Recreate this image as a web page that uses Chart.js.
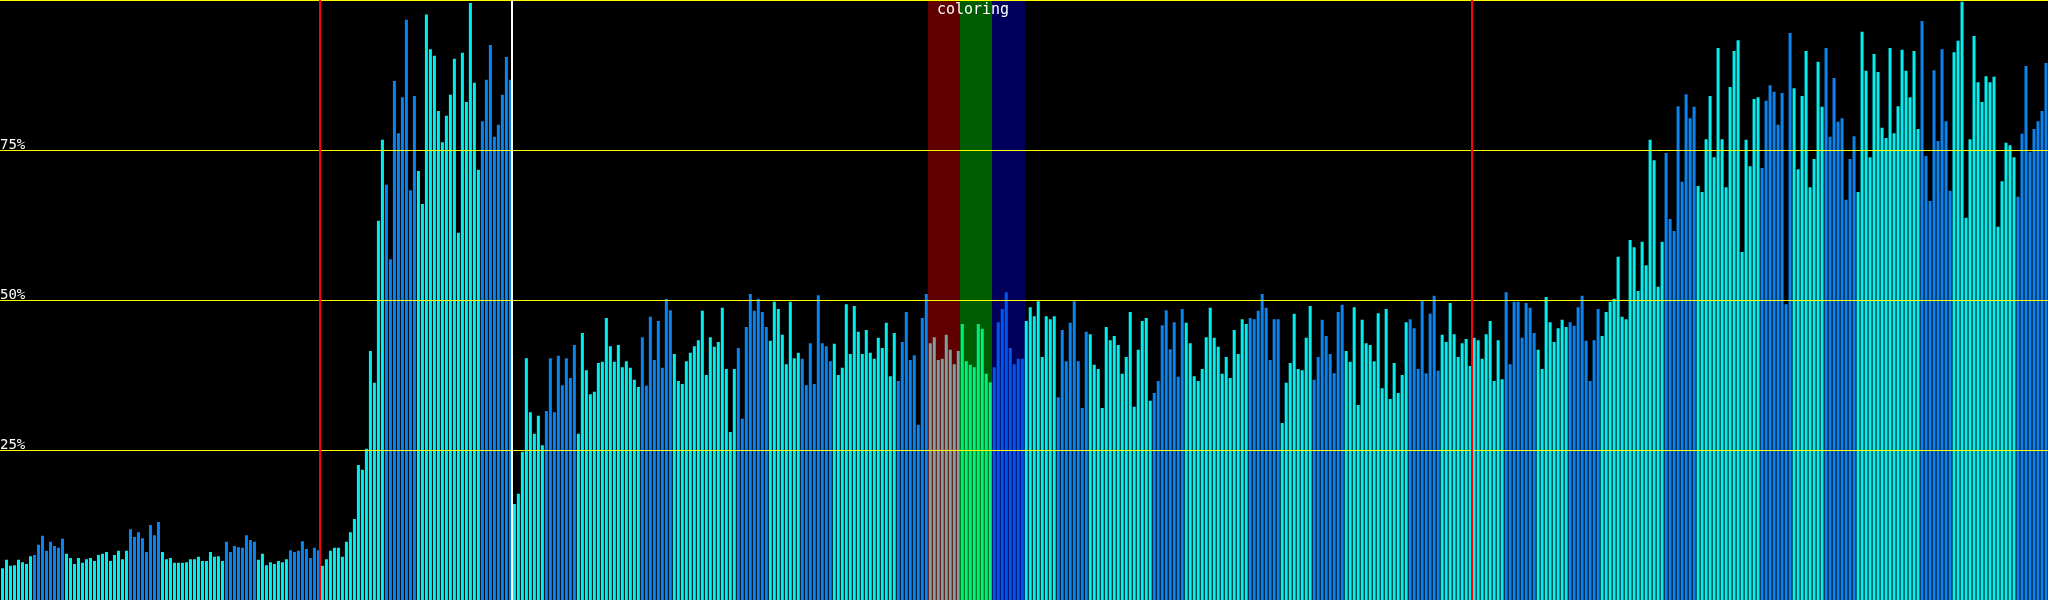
<!DOCTYPE html>
<html>
<head>
<meta charset="utf-8">
<script src="https://cdn.jsdelivr.net/npm/chart.js@4.4.1/dist/chart.umd.min.js"></script>
<style>
    html, body { margin: 0; padding: 0; background: #000; overflow: hidden; }
    #wrap { width: 2048px; height: 600px; }
</style>
</head>
<body>
<div id="wrap"><canvas id="usageChart" width="2048" height="600"></canvas></div>
<script>
// usage per slot, in percent
const usage = [
    5.3, 6.7, 5.7, 5.8, 6.7, 6.3, 6.0, 7.3, 7.5, 9.2, 10.7, 8.2, 9.7, 9.0, 8.7, 10.2,
    7.7, 7.0, 6.0, 7.0, 6.2, 6.8, 7.0, 6.5, 7.5, 7.7, 8.0, 6.5, 7.5, 8.2, 6.8, 8.2,
    11.8, 10.5, 11.3, 10.3, 8.0, 12.5, 10.8, 13.0, 8.0, 6.8, 7.0, 6.2, 6.2, 6.2, 6.3, 6.8,
    6.8, 7.2, 6.5, 6.5, 8.0, 7.2, 7.3, 6.5, 9.7, 8.0, 9.0, 8.8, 8.7, 10.8, 10.0, 9.7,
    6.7, 7.7, 5.8, 6.3, 6.0, 6.5, 6.3, 6.8, 8.3, 8.0, 8.2, 9.8, 8.5, 7.0, 8.7, 8.3,
    5.7, 6.8, 8.2, 8.7, 8.7, 7.2, 9.7, 11.3, 13.5, 22.5, 21.7, 25.2, 41.5, 36.2, 63.2, 76.7,
    69.2, 56.8, 86.5, 77.8, 83.8, 96.7, 68.3, 84.0, 71.5, 66.0, 97.6, 91.8, 90.7, 81.5, 76.3, 80.7,
    84.2, 90.2, 61.2, 91.2, 83.0, 99.5, 86.2, 71.7, 79.8, 86.7, 92.5, 77.2, 79.2, 84.2, 90.5, 86.7,
    16.0, 17.7, 24.7, 40.3, 31.3, 27.7, 30.7, 25.8, 31.5, 40.3, 31.3, 40.7, 35.8, 40.3, 37.0, 42.5,
    27.7, 44.5, 38.3, 34.3, 34.7, 39.5, 39.7, 47.0, 42.3, 39.7, 42.5, 38.8, 39.8, 38.7, 36.7, 35.5,
    43.8, 35.7, 47.2, 40.0, 46.5, 38.7, 50.2, 48.3, 41.0, 36.5, 36.0, 39.8, 41.2, 42.3, 43.3, 48.2,
    37.5, 43.8, 42.2, 43.0, 48.7, 38.5, 28.0, 38.5, 42.0, 30.2, 45.5, 51.0, 48.2, 50.2, 48.0, 45.5,
    43.2, 49.7, 48.5, 44.2, 39.3, 49.7, 40.3, 41.2, 40.2, 35.8, 42.8, 36.0, 50.8, 42.8, 42.3, 39.8,
    42.7, 37.5, 38.7, 49.3, 41.0, 49.0, 44.7, 41.0, 45.0, 41.2, 40.2, 43.7, 42.0, 46.2, 37.3, 44.5,
    36.5, 43.0, 48.0, 40.0, 40.8, 29.2, 47.0, 51.0, 42.8, 43.8, 40.0, 40.2, 44.2, 41.7, 39.3, 41.5,
    46.0, 39.8, 39.2, 38.8, 46.0, 45.2, 37.7, 36.3, 38.8, 46.3, 48.5, 51.3, 42.0, 39.3, 40.2, 40.2,
    46.5, 48.8, 47.3, 49.8, 40.5, 47.3, 46.8, 47.3, 33.8, 45.0, 39.8, 46.2, 49.8, 39.8, 32.0, 44.7,
    44.3, 39.2, 38.5, 32.0, 45.5, 43.3, 44.0, 42.5, 37.7, 40.5, 48.0, 32.2, 41.7, 46.5, 47.0, 33.2,
    34.5, 36.5, 45.8, 48.3, 41.8, 46.3, 37.2, 48.5, 46.2, 42.8, 37.3, 36.5, 38.5, 43.8, 48.7, 43.7,
    42.2, 37.7, 40.5, 37.0, 45.0, 41.0, 46.8, 46.0, 47.0, 46.8, 48.2, 51.0, 48.7, 40.0, 46.8, 46.8,
    29.5, 36.2, 39.5, 47.7, 38.5, 38.3, 43.7, 49.0, 36.7, 40.5, 46.7, 44.0, 41.0, 37.8, 48.0, 49.2,
    41.5, 39.7, 48.8, 32.5, 46.7, 42.8, 42.5, 39.8, 47.8, 35.3, 48.5, 33.5, 39.5, 34.5, 37.5, 46.3,
    46.8, 45.3, 38.5, 50.0, 37.8, 47.7, 50.7, 38.2, 44.2, 43.0, 49.5, 44.3, 40.5, 42.8, 43.5, 39.0,
    43.7, 43.3, 40.2, 44.3, 46.5, 36.5, 43.3, 36.8, 51.3, 39.3, 49.7, 49.7, 43.7, 49.5, 48.7, 44.5,
    41.7, 38.5, 50.5, 46.3, 43.0, 45.3, 46.7, 45.5, 46.3, 45.7, 48.8, 50.7, 43.2, 36.5, 43.3, 48.5,
    44.0, 48.0, 49.7, 50.2, 57.2, 47.2, 46.8, 60.0, 58.8, 51.5, 59.7, 55.8, 76.7, 73.3, 52.2, 59.7,
    74.5, 63.5, 61.5, 82.3, 69.7, 84.3, 80.3, 82.2, 69.0, 68.0, 76.8, 84.0, 73.8, 92.0, 76.8, 68.8,
    85.5, 91.5, 93.3, 58.0, 76.7, 72.3, 83.5, 83.8, 72.0, 83.2, 85.8, 84.7, 79.2, 84.5, 49.3, 94.5,
    85.3, 71.8, 84.0, 91.5, 68.8, 73.5, 89.7, 82.2, 92.0, 77.2, 87.0, 79.7, 80.3, 66.7, 73.5, 77.3,
    68.0, 94.7, 88.2, 73.8, 91.0, 88.0, 78.7, 77.0, 92.0, 77.8, 82.3, 91.7, 88.2, 83.8, 91.5, 78.5,
    96.5, 74.0, 66.5, 88.3, 76.5, 91.8, 79.8, 68.2, 91.3, 93.2, 99.7, 63.7, 76.8, 94.0, 86.3, 83.0,
    87.3, 86.3, 87.2, 62.2, 69.8, 76.2, 75.8, 73.8, 67.2, 77.7, 89.0, 74.7, 78.5, 79.8, 81.5, 89.5
];

// kind of each block of 8 slots (0 = cyan, 1 = blue)
const blockKind = [
    0, 1, 0, 0, 1, 0, 0, 1,
    0, 1, 0, 0, 1, 0, 0, 1,
    0, 1, 0, 0, 1, 0, 0, 1,
    0, 1, 0, 0, 1, 0, 0, 1,
    0, 1, 0, 0, 1, 0, 0, 1,
    0, 1, 0, 0, 1, 0, 0, 1,
    0, 1, 0, 0, 1, 0, 0, 1,
    0, 1, 0, 0, 1, 0, 0, 1
];
const blockSize = 8;

const slots = usage.map((_, i) => String(i));

// gridlines and their labels
const yTicks = [25, 50, 75, 100];
const yTickLabels = ['25%', '50%', '75%', ''];

// vertical markers (slot index where the line sits before)
const redMarkers = [80, 368];
const whiteMarkers = [128];

// "coloring" region: red, green, blue bands
const bandStarts = [232, 240, 248];
const bandLength = 8;
const bandTitle = 'coloring';

const BAND_BG = ['#600000', '#005c00', '#00005c'];
const BAND_BAR = ['#80a0a0', '#00f080', '#0058f0'];
const CYAN = '#00f0f0';
const BLUE = '#0a84f0';

function bandOf(i) {
    for (let b = 0; b < bandStarts.length; b++) {
        if (i >= bandStarts[b] && i < bandStarts[b] + bandLength) return b;
    }
    return -1;
}

// x pixel of the boundary just before slot i
function edgeX(scale, i) {
    const a = scale.getPixelForValue(i);
    const step = scale.getPixelForValue(1) - scale.getPixelForValue(0);
    return Math.round(a - step / 2);
}

const overlay = {
    id: 'overlay',
    beforeDatasetsDraw(chart) {
        const { ctx, chartArea, scales } = chart;
        ctx.save();
        bandStarts.forEach((s, b) => {
            const x0 = edgeX(scales.x, s);
            const x1 = edgeX(scales.x, s + bandLength);
            ctx.fillStyle = BAND_BG[b];
            ctx.fillRect(x0, chartArea.top, x1 - x0 + 1, chartArea.bottom - chartArea.top);
        });
        ctx.restore();
    },
    afterDatasetsDraw(chart) {
        const { ctx, chartArea, scales } = chart;
        ctx.save();

        // yellow gridlines + labels
        yTicks.forEach((v, k) => {
            const y = Math.round(scales.y.getPixelForValue(v));
            ctx.fillStyle = '#ffff00';
            ctx.fillRect(0, y, 2048, 1);
            if (yTickLabels[k]) {
                ctx.fillStyle = '#ffffff';
                ctx.font = '14px "DejaVu Sans Mono", monospace';
                ctx.textAlign = 'left';
                ctx.textBaseline = 'alphabetic';
                ctx.fillText(yTickLabels[k], 0, y - 1);
            }
        });

        // vertical markers
        ctx.fillStyle = '#ff0000';
        redMarkers.forEach(i => {
            ctx.fillRect(edgeX(scales.x, i) - 1, chartArea.top, 2, chartArea.bottom - chartArea.top);
        });
        ctx.fillStyle = '#ffffff';
        whiteMarkers.forEach(i => {
            ctx.fillRect(edgeX(scales.x, i) - 1, chartArea.top, 2, chartArea.bottom - chartArea.top);
        });

        // region title
        const xa = edgeX(scales.x, bandStarts[0]);
        const xb = edgeX(scales.x, bandStarts[bandStarts.length - 1] + bandLength);
        ctx.fillStyle = '#ffffff';
        ctx.font = '15px "DejaVu Sans Mono", monospace';
        ctx.textAlign = 'center';
        ctx.textBaseline = 'alphabetic';
        ctx.fillText(bandTitle, (xa + xb) / 2 - 3, 14);

        ctx.restore();
    }
};

const ctx = document.getElementById('usageChart').getContext('2d');

new Chart(ctx, {
    type: 'bar',
    data: {
        labels: slots,
        datasets: [{
            data: usage,
            borderWidth: 0,
            barPercentage: 0.75,
            categoryPercentage: 1.0,
            backgroundColor: (c) => {
                const i = c.dataIndex;
                const b = bandOf(i);
                if (b >= 0) return BAND_BAR[b];
                return blockKind[Math.floor(i / blockSize)] ? BLUE : CYAN;
            }
        }]
    },
    options: {
        responsive: false,
        animation: false,
        devicePixelRatio: 1,
        layout: { padding: { left: 0.5, right: 0, top: 0, bottom: 0 } },
        plugins: {
            legend: { display: false },
            tooltip: { enabled: false }
        },
        scales: {
            x: { display: false, offset: true },
            y: { display: false, min: 0, max: 100 }
        }
    },
    plugins: [overlay]
});
</script>
</body>
</html>
